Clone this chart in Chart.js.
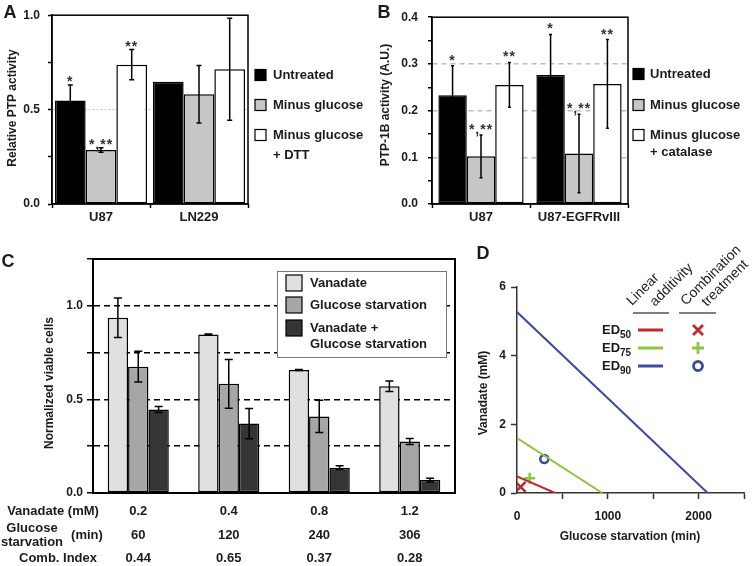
<!DOCTYPE html>
<html lang="en">
<head>
<meta charset="utf-8">
<title>PTP activity / glucose starvation</title>
<script src="https://cdn.jsdelivr.net/npm/chart.js@4.4.1/dist/chart.umd.min.js"></script>
<style>
  html, body { margin: 0; padding: 0; background: #ffffff; }
  #figura { position: relative; width: 754px; height: 566px; overflow: hidden; background: #ffffff; }
  #figura canvas { position: absolute; }
</style>
</head>
<body>
<div id="figura">
  <canvas id="graficoA" width="377" height="230" style="left:0px;top:0px"></canvas>
  <canvas id="graficoB" width="377" height="230" style="left:377px;top:0px"></canvas>
  <canvas id="graficoC" width="470" height="326" style="left:0px;top:240px"></canvas>
  <canvas id="graficoD" width="284" height="341" style="left:470px;top:225px"></canvas>
</div>
<script>
// ---------- dados do painel A ----------
const gruposA = ['U87', 'LN229']
const untreatedA = [0.548, 0.647]
const untreatedErrA = [0.082, null]
const minusGlucoseA = [0.286, 0.581]
const minusGlucoseErrA = [0.012, 0.152]
const dttA = [0.738, 0.714]
const dttErrA = [0.08, 0.27]
const estrelasUntreatedA = ['*', '']
const estrelasMinusA = ['*,**', '']
const estrelasDttA = ['**', '']

// ---------- dados do painel B ----------
const gruposB = ['U87', 'U87-EGFRvIII']
const untreatedB = [0.233, 0.276]
const untreatedErrB = [0.063, 0.087]
const minusGlucoseB = [0.102, 0.108]
const minusGlucoseErrB = [0.046, 0.084]
const catalaseB = [0.255, 0.257]
const catalaseErrB = [0.048, 0.095]
const estrelasUntreatedB = ['*', '*']
const estrelasMinusB = ['*,**', '*,**']
const estrelasCatalaseB = ['**', '**']

// ---------- dados do painel C ----------
const vanadatoMM = ['0.2', '0.4', '0.8', '1.2']
const starvationMin = ['60', '120', '240', '306']
const combIndex = ['0.44', '0.65', '0.37', '0.28']
const vanadateC = [0.936, 0.847, 0.657, 0.570]
const vanadateErrC = [0.105, 0.003, 0.003, 0.028]
const glucoseC = [0.675, 0.583, 0.409, 0.275]
const glucoseErrC = [0.082, 0.13, 0.086, 0.016]
const comboC = [0.446, 0.371, 0.135, 0.069]
const comboErrC = [0.016, 0.081, 0.01, 0.01]

// ---------- dados do painel D ----------
const nivelED = ['50', '75', '90']
const isoboloVanadato = [0.48, 1.6, 5.27]   // intercepto no eixo y (mM)
const isoboloGlicose = [420, 940, 2100]     // intercepto no eixo x (min)
const comboGlicose = [40, 140, 300]
const comboVanadato = [0.18, 0.43, 0.99]

// ---------- estilo ----------
const FONT = '"Liberation Sans", Arial, Helvetica, sans-serif'
const INK = '#1b1b1b'
const coresED = ['#c1272d', '#8dc63f', '#3c4ba0']
const marcadoresED = ['crossRot', 'cross', 'circle']
const fonte = (size, weight = 'bold') => `${weight} ${size}px ${FONT}`
const fonteObj = size => ({ family: FONT, size: size, weight: 'bold' })
const perto = (a, b) => Math.abs(a - b) < 1e-6
const multiplo = (v, passo) => perto(v / passo, Math.round(v / passo))

function texto(ctx, it) {
  ctx.save()
  ctx.translate(it.x, it.y)
  if (it.rot) ctx.rotate(it.rot * Math.PI / 180)
  ctx.font = it.f || fonte(12)
  ctx.fillStyle = it.cor || INK
  ctx.textAlign = it.align || 'center'
  ctx.textBaseline = it.base || 'middle'
  if (it.espaco) ctx.letterSpacing = it.espaco
  ctx.fillText(it.t, 0, 0)
  ctx.restore()
}

// área de plotagem fixa (em px do canvas)
function area(W, H, l, t, r, b) {
  return {
    padding: { left: 0, top: t, right: W - r, bottom: 0 },
    x: s => { s.height = H - b },
    y: s => { s.width = l }
  }
}

// ---------- plugins ----------
const barrasErro = {
  id: 'barrasErro',
  afterDatasetsDraw(chart, args, opts) {
    const ctx = chart.ctx
    const y = chart.scales.y
    chart.data.datasets.forEach((ds, di) => {
      if (!ds.erros) return
      chart.getDatasetMeta(di).data.forEach((barra, i) => {
        const v = ds.data[i]
        const e = ds.erros[i]
        let topo = y.getPixelForValue(v)
        if (e != null) {
          topo = y.getPixelForValue(v + e)
          const base = y.getPixelForValue(v - e)
          ctx.save()
          ctx.strokeStyle = '#000'
          ctx.lineWidth = opts.largura
          ctx.beginPath()
          ctx.moveTo(barra.x, topo); ctx.lineTo(barra.x, base)
          ctx.moveTo(barra.x - opts.aba, topo); ctx.lineTo(barra.x + opts.aba, topo)
          ctx.moveTo(barra.x - opts.aba, base); ctx.lineTo(barra.x + opts.aba, base)
          ctx.stroke()
          ctx.restore()
        }
        const s = ds.estrelas && ds.estrelas[i]
        if (s) texto(ctx, { t: s, x: barra.x, y: topo + opts.estrelaDy, f: fonte(14, 'bold'), base: 'alphabetic', espaco: '1px', cor: '#333' })
      })
    })
  }
}

const moldura = {
  id: 'moldura',
  afterDraw(chart, args, opts) {
    const { left, top, right, bottom } = chart.chartArea
    const ctx = chart.ctx
    ctx.save()
    ctx.strokeStyle = '#000'
    ctx.lineWidth = opts.largura
    ctx.strokeRect(left, top, right - left, bottom - top)
    ctx.restore()
  }
}

const legendaQuadros = {
  id: 'legendaQuadros',
  afterDraw(chart, args, opts) {
    const ctx = chart.ctx
    ctx.save()
    if (opts.caixa) {
      const [x1, y1, x2, y2] = opts.caixa
      ctx.fillStyle = '#fff'
      ctx.fillRect(x1, y1, x2 - x1, y2 - y1)
      ctx.strokeStyle = '#777'
      ctx.lineWidth = 1
      ctx.strokeRect(x1 + 0.5, y1 + 0.5, x2 - x1, y2 - y1)
    }
    chart.data.datasets.forEach((ds, i) => {
      const y = opts.ys[i]
      ctx.fillStyle = ds.backgroundColor
      ctx.fillRect(opts.x, y - opts.lado / 2, opts.lado, opts.lado)
      ctx.strokeStyle = '#000'
      ctx.lineWidth = 1.2
      ctx.strokeRect(opts.x, y - opts.lado / 2, opts.lado, opts.lado)
      const linhas = [].concat(ds.label)
      linhas.forEach((l, k) => texto(ctx, { t: l, x: opts.xTexto, y: y + k * opts.entreLinhas, f: fonte(13), align: 'left' }))
    })
    ctx.restore()
  }
}

const camadaTexto = {
  id: 'camadaTexto',
  afterDraw(chart, args, opts) {
    (opts.itens || []).forEach(it => texto(chart.ctx, it))
  }
}

const tabelaC = {
  id: 'tabelaC',
  afterDraw(chart, args, opts) {
    const x = chart.scales.x
    opts.linhas.forEach(linha => {
      linha.valores.forEach((v, i) => texto(chart.ctx, { t: v, x: x.getPixelForTick(i), y: linha.y, f: fonte(13) }))
    })
  }
}

const legendaD = {
  id: 'legendaD',
  afterDraw(chart, args, opts) {
    const ctx = chart.ctx
    ctx.save()
    // cabeçalhos inclinados
    opts.cabecalho.forEach(c => texto(ctx, { t: c.t, x: c.x, y: c.y, rot: -45, align: 'left', base: 'alphabetic', f: fonte(14, 'normal'), cor: '#222' }))
    ctx.strokeStyle = '#555'
    ctx.lineWidth = 1.5
    opts.tracos.forEach(([x1, x2]) => {
      ctx.beginPath(); ctx.moveTo(x1, opts.yTraco); ctx.lineTo(x2, opts.yTraco); ctx.stroke()
    })
    nivelED.forEach((n, i) => {
      const y = opts.y0 + i * opts.dy
      ctx.font = fonte(13)
      ctx.fillStyle = INK
      ctx.textAlign = 'left'
      ctx.textBaseline = 'middle'
      ctx.fillText('ED', opts.xTexto, y)
      const w = ctx.measureText('ED').width
      ctx.font = fonte(10)
      ctx.fillText(n, opts.xTexto + w, y + 5)
      const cor = coresED[i]
      ctx.strokeStyle = cor
      ctx.lineWidth = 3
      ctx.beginPath(); ctx.moveTo(opts.linha[0], y); ctx.lineTo(opts.linha[1], y); ctx.stroke()
      const mx = opts.xMarca
      ctx.lineWidth = 2.8
      ctx.beginPath()
      if (marcadoresED[i] === 'crossRot') {
        ctx.moveTo(mx - 5, y - 5); ctx.lineTo(mx + 5, y + 5)
        ctx.moveTo(mx + 5, y - 5); ctx.lineTo(mx - 5, y + 5)
      } else if (marcadoresED[i] === 'cross') {
        ctx.moveTo(mx - 6, y); ctx.lineTo(mx + 6, y)
        ctx.moveTo(mx, y - 6); ctx.lineTo(mx, y + 6)
      } else {
        ctx.arc(mx, y, 4.5, 0, Math.PI * 2)
      }
      ctx.stroke()
    })
    ctx.restore()
  }
}

// ---------- fábrica dos gráficos de barra A, B e C ----------
function serie(label, data, erros, estrelas, cor) {
  return { label, data, erros, estrelas, backgroundColor: cor, borderColor: '#000', borderWidth: 1.5, borderSkipped: false }
}

function opcoesBarra(ar, eixo) {
  return {
    responsive: false,
    animation: false,
    layout: { padding: ar.padding },
    datasets: { bar: { categoryPercentage: eixo.catPct, barPercentage: 1 } },
    plugins: {
      legend: { display: false },
      tooltip: { enabled: false },
      barrasErro: { largura: 1.5, aba: eixo.aba, estrelaDy: eixo.estrelaDy },
      moldura: { largura: eixo.moldura },
      legendaQuadros: eixo.legenda,
      camadaTexto: { itens: eixo.textos },
      tabelaC: eixo.tabela
    },
    scales: {
      x: {
        afterFit: ar.x,
        grid: { display: eixo.ticksX, drawOnChartArea: false, tickLength: 4, tickColor: '#000', tickWidth: 1.5 },
        border: { color: '#000', width: eixo.moldura },
        ticks: { display: eixo.ticksX, font: fonteObj(13), color: INK, padding: 2 }
      },
      y: {
        min: 0,
        max: eixo.max,
        afterFit: ar.y,
        ticks: {
          stepSize: eixo.passo,
          autoSkip: false,
          padding: eixo.padY,
          font: fonteObj(12),
          color: INK,
          callback: v => multiplo(v, eixo.rotulo) ? v.toFixed(1) : ''
        },
        grid: {
          color: c => eixo.grade(c.tick.value),
          lineWidth: eixo.gradeLargura,
          tickColor: '#000',
          tickLength: eixo.tickY,
          tickWidth: 1.5
        },
        border: { color: '#000', width: eixo.moldura, dash: eixo.traco }
      }
    }
  }
}

// ---------- painel A ----------
new Chart(document.getElementById('graficoA'), {
  type: 'bar',
  data: {
    labels: gruposA,
    datasets: [
      serie('Untreated', untreatedA, untreatedErrA, estrelasUntreatedA, '#000000'),
      serie('Minus glucose', minusGlucoseA, minusGlucoseErrA, estrelasMinusA, '#c6c6c6'),
      serie(['Minus glucose', '+ DTT'], dttA, dttErrA, estrelasDttA, '#ffffff')
    ]
  },
  options: opcoesBarra(area(377, 230, 52, 12, 248, 204), {
    max: 1, passo: 0.25, rotulo: 0.5, padY: 8, tickY: 4, catPct: 0.94, aba: 2.5, estrelaDy: 1, moldura: 1.5, ticksX: true,
    grade: v => perto(v, 0.5) ? '#c4c4c4' : 'transparent', gradeLargura: 1, traco: [2, 2],
    legenda: { x: 255, ys: [75, 105, 135], lado: 11, xTexto: 273, entreLinhas: 20 },
    textos: [
      { t: 'A', x: 10, y: 13, f: fonte(18) },
      { t: 'Relative PTP activity', x: 13, y: 108, f: fonte(12), rot: -90 }
    ]
  }),
  plugins: [barrasErro, moldura, legendaQuadros, camadaTexto]
})

// ---------- painel B ----------
new Chart(document.getElementById('graficoB'), {
  type: 'bar',
  data: {
    labels: gruposB,
    datasets: [
      serie('Untreated', untreatedB, untreatedErrB, estrelasUntreatedB, '#000000'),
      serie('Minus glucose', minusGlucoseB, minusGlucoseErrB, estrelasMinusB, '#c6c6c6'),
      serie(['Minus glucose', '+ catalase'], catalaseB, catalaseErrB, estrelasCatalaseB, '#ffffff')
    ]
  },
  options: opcoesBarra(area(377, 230, 55, 12, 251, 204), {
    max: 0.4, passo: 0.05, rotulo: 0.1, padY: 10, tickY: 4, catPct: 0.87, aba: 1.5, estrelaDy: -1, moldura: 1.5, ticksX: true,
    grade: v => (v > 0.01 && v < 0.39) && multiplo(v, 0.1) ? '#bdbdbd' : 'transparent', gradeLargura: 1.5, traco: [5, 4],
    legenda: { x: 256, ys: [74, 105, 135], lado: 11, xTexto: 273, entreLinhas: 17 },
    textos: [
      { t: 'B', x: 7, y: 13, f: fonte(18) },
      { t: 'PTP-1B activity (A.U.)', x: 9, y: 105, f: fonte(12), rot: -90 }
    ]
  }),
  plugins: [barrasErro, moldura, legendaQuadros, camadaTexto]
})

// ---------- painel C ----------
new Chart(document.getElementById('graficoC'), {
  type: 'bar',
  data: {
    labels: vanadatoMM,
    datasets: [
      serie('Vanadate', vanadateC, vanadateErrC, null, '#e0e0e0'),
      serie('Glucose starvation', glucoseC, glucoseErrC, null, '#a6a6a6'),
      serie(['Vanadate +', 'Glucose starvation'], comboC, comboErrC, null, '#353535')
    ]
  },
  options: opcoesBarra(area(470, 326, 93, 19, 455, 253), {
    max: 1.25, passo: 0.25, rotulo: 0.5, padY: 4, tickY: 6, catPct: 0.675, aba: 4, estrelaDy: 0, moldura: 2, ticksX: false,
    grade: v => (v > 0.01 && v < 1.2) ? '#000' : 'transparent', gradeLargura: 1.5, traco: [6, 4],
    legenda: { caixa: [277, 31, 446, 117], x: 286, ys: [43, 65, 88], lado: 16, xTexto: 310, entreLinhas: 16 },
    tabela: {
      linhas: [
        { y: 271, valores: vanadatoMM },
        { y: 295, valores: starvationMin },
        { y: 318, valores: combIndex }
      ]
    },
    textos: [
      { t: 'C', x: 8, y: 22, f: fonte(18) },
      { t: 'Normalized viable cells', x: 50, y: 143, f: fonte(12), rot: -90 },
      { t: 'Vanadate (mM)', x: 53, y: 271, f: fonte(13) },
      { t: 'Glucose', x: 32, y: 288, f: fonte(13) },
      { t: 'starvation', x: 32, y: 302, f: fonte(13) },
      { t: '(min)', x: 87, y: 295, f: fonte(13) },
      { t: 'Comb. Index', x: 58, y: 318, f: fonte(13) }
    ]
  }),
  plugins: [barrasErro, moldura, legendaQuadros, tabelaC, camadaTexto]
})

// ---------- painel D ----------
const arD = area(284, 341, 47, 62, 278, 268)
const datasetsD = []
nivelED.forEach((n, i) => {
  datasetsD.push({
    label: 'ED' + n,
    data: [{ x: 0, y: isoboloVanadato[i] }, { x: isoboloGlicose[i], y: 0 }],
    showLine: true,
    borderColor: coresED[i],
    borderWidth: 2,
    pointRadius: 0
  })
})
nivelED.forEach((n, i) => {
  datasetsD.push({
    label: 'ED' + n + ' combination',
    data: [{ x: comboGlicose[i], y: comboVanadato[i] }],
    pointStyle: marcadoresED[i],
    pointRadius: marcadoresED[i] === 'circle' ? 4 : (marcadoresED[i] === 'cross' ? 5.5 : 7),
    pointBorderWidth: 2.5,
    pointBorderColor: coresED[i],
    pointBackgroundColor: 'rgba(255,255,255,0)'
  })
})

new Chart(document.getElementById('graficoD'), {
  type: 'scatter',
  data: { datasets: datasetsD },
  options: {
    responsive: false,
    animation: false,
    layout: { padding: arD.padding },
    plugins: {
      legend: { display: false },
      tooltip: { enabled: false },
      legendaD: {
        cabecalho: [
          { t: 'Linear', x: 162, y: 81 },
          { t: 'additivity', x: 185, y: 82 },
          { t: 'Combination', x: 216, y: 81 },
          { t: 'treatment', x: 237, y: 82 }
        ],
        yTraco: 88,
        tracos: [[163, 199], [209, 246]],
        xTexto: 132, y0: 105, dy: 18,
        linha: [168, 193],
        xMarca: 228
      },
      camadaTexto: {
        itens: [
          { t: 'D', x: 13, y: 29, f: fonte(18) },
          { t: 'Vanadate (mM)', x: 14, y: 168, f: fonte(12), rot: -90 },
          { t: 'Glucose starvation (min)', x: 160, y: 312, f: fonte(12) }
        ]
      }
    },
    scales: {
      x: {
        type: 'linear',
        min: 0,
        max: 2500,
        afterFit: arD.x,
        grid: { drawOnChartArea: false, tickLength: 6, tickWidth: 1.5, tickColor: c => c.tick.value === 0 ? 'rgba(0,0,0,0)' : '#333' },
        border: { color: '#333', width: 1.5 },
        ticks: { stepSize: 500, autoSkip: false, maxRotation: 0, padding: 10, font: fonteObj(12), color: INK, callback: v => v % 1000 === 0 ? String(v) : '' }
      },
      y: {
        min: 0,
        max: 6,
        afterFit: arD.y,
        grid: { drawOnChartArea: false, tickLength: 6, tickWidth: 1.5, tickColor: '#333' },
        border: { color: '#333', width: 1.5 },
        ticks: { stepSize: 2, autoSkip: false, padding: 5, font: fonteObj(12), color: INK }
      }
    }
  },
  plugins: [legendaD, camadaTexto]
})
</script>
</body>
</html>
